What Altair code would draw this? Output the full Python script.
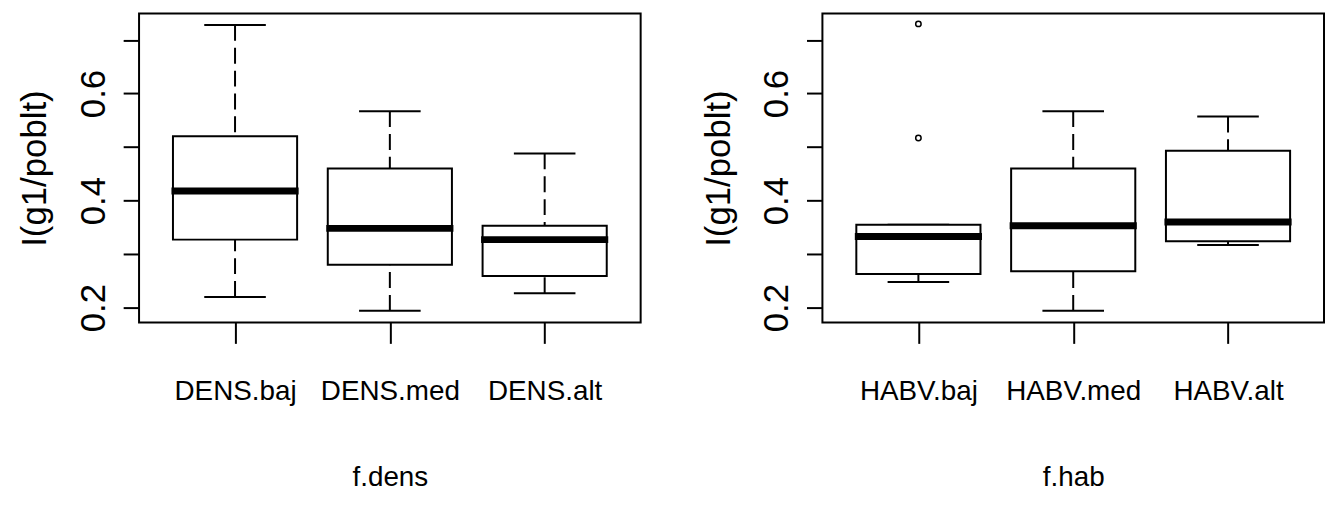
import altair as alt
import pandas as pd

# Five-number summaries of I(g1/poblt) per factor level
dens_groups = ["DENS.baj", "DENS.med", "DENS.alt"]
dens_lo = [0.220, 0.194, 0.227]
dens_q1 = [0.327, 0.280, 0.259]
dens_med = [0.418, 0.348, 0.327]
dens_q3 = [0.520, 0.460, 0.353]
dens_hi = [0.728, 0.567, 0.488]
dens_out_group = []
dens_out_vals = []

hab_groups = ["HABV.baj", "HABV.med", "HABV.alt"]
hab_lo = [0.248, 0.194, 0.317]
hab_q1 = [0.263, 0.268, 0.324]
hab_med = [0.333, 0.353, 0.360]
hab_q3 = [0.355, 0.460, 0.493]
hab_hi = [0.355, 0.567, 0.557]
hab_out_group = ["HABV.baj", "HABV.baj"]
hab_out_vals = [0.730, 0.517]

y_ticks = [0.2, 0.3, 0.4, 0.5, 0.6, 0.7]
y_title = "I(g1/poblt)"

FONT = "Liberation Sans"

PW, PH = 505, 311


def panel(groups, lo, q1, med, q3, hi, out_group, out_vals, xtitle):
    stats = pd.DataFrame({"grupo": groups, "lo": lo, "q1": q1,
                          "med": med, "q3": q3, "hi": hi})
    outs = pd.DataFrame({"grupo": out_group, "v": out_vals})

    x = alt.X(
        "grupo:N",
        scale=alt.Scale(type="point", domain=groups, padding=0.62),
        axis=alt.Axis(
            title=xtitle, labelAngle=0, domain=False, grid=False,
            tickSize=21, tickWidth=2, tickColor="black",
            labelFont=FONT, labelFontSize=28, labelColor="black",
            labelPadding=57, labelBaseline="alphabetic", labelOverlap=False,
            titleFont=FONT, titleFontSize=28, titleFontWeight="normal",
            titleColor="black", titleY=164, titleBaseline="alphabetic",
        ),
    )

    def y(field):
        return alt.Y(
            field,
            title=y_title,
            scale=alt.Scale(domain=[0.1722, 0.7492], nice=False, zero=False),
            axis=alt.Axis(
                values=y_ticks, domain=False, grid=False,
                tickSize=16, tickWidth=2, tickColor="black",
                labelExpr="(round(datum.value * 10) % 2 == 0) ? format(datum.value, '.1f') : ''",
                labelAngle=270, labelAlign="center", labelBaseline="alphabetic",
                labelPadding=19, labelFont=FONT, labelFontSize=35,
                labelColor="black", labelOverlap=False, labelBound=False,
                titleFont=FONT, titleFontSize=35, titleFontWeight="normal",
                titleColor="black", titleAngle=270, titleX=-94,
                titleY=PH / 2, titleAlign="center", titleBaseline="alphabetic",
            ),
        )

    base = alt.Chart(stats).encode(x=x)

    upper = base.mark_rule(color="black", strokeWidth=2, strokeDash=[16, 7]).encode(
        y=y("hi:Q"), y2="q3:Q")
    lower = base.mark_rule(color="black", strokeWidth=2, strokeDash=[16, 7]).encode(
        y=y("lo:Q"), y2="q1:Q")
    cap_hi = base.mark_tick(color="black", size=62, thickness=2, opacity=1,
                            orient="horizontal").encode(y=y("hi:Q"))
    cap_lo = base.mark_tick(color="black", size=62, thickness=2, opacity=1,
                            orient="horizontal").encode(y=y("lo:Q"))
    box = base.mark_bar(fill="white", stroke="black", strokeWidth=2, opacity=1,
                        size=125).encode(y=y("q1:Q"), y2="q3:Q")
    median = base.mark_tick(color="black", size=128, thickness=7, opacity=1,
                            orient="horizontal").encode(y=y("med:Q"))
    layers = [upper, lower, cap_hi, cap_lo, box, median]
    if len(outs):
        pts = alt.Chart(outs).mark_point(
            shape="circle", filled=False, color="black", size=30,
            strokeWidth=1.5, opacity=1
        ).encode(x=x, y=y("v:Q"))
        layers.append(pts)
    return alt.layer(*layers).properties(width=PW, height=PH)


left = panel(dens_groups, dens_lo, dens_q1, dens_med, dens_q3, dens_hi,
             dens_out_group, dens_out_vals, "f.dens")
right = panel(hab_groups, hab_lo, hab_q1, hab_med, hab_q3, hab_hi,
              hab_out_group, hab_out_vals, "f.hab")

chart = (
    alt.hconcat(left, right, spacing=183, bounds="flush")
    .properties(padding={"left": 17, "top": 11, "right": 0, "bottom": 5})
    .configure(background="white")
    .configure_view(stroke="black", strokeWidth=2)
)

chart.save("out.html", embed_options={"renderer": "svg", "actions": False})
